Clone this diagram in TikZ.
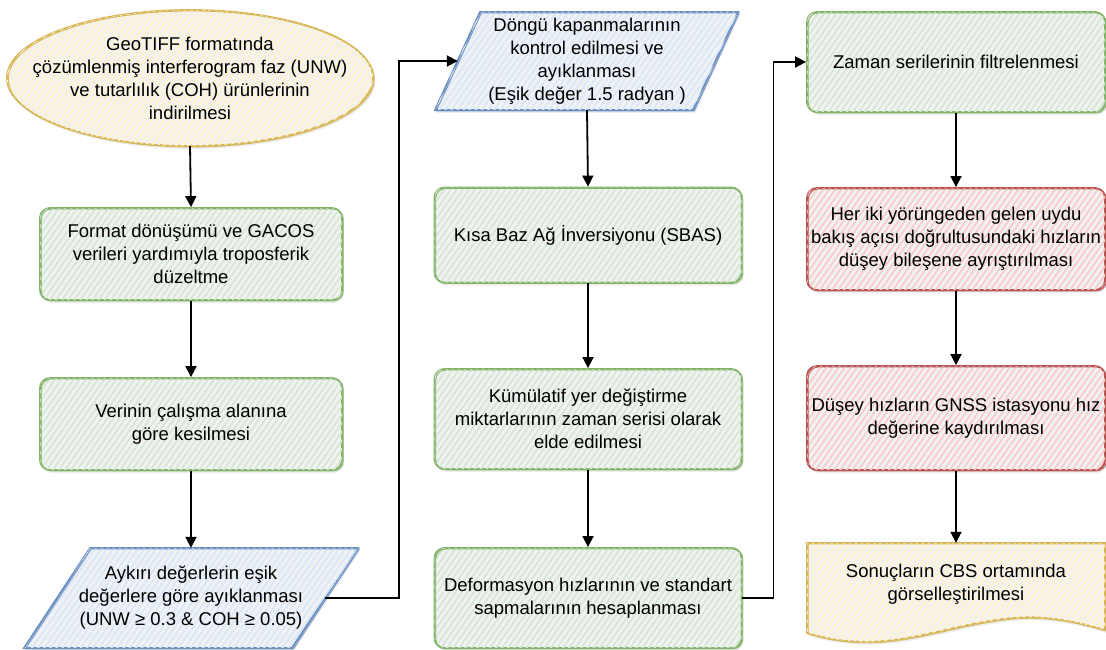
\documentclass[tikz,border=0pt]{standalone}
\usepackage{fontspec}
\setmainfont{Liberation Sans}
\usetikzlibrary{shapes.geometric,arrows.meta,calc,backgrounds,patterns.meta,shadows}
\definecolor{gS}{HTML}{82B366}\definecolor{gF}{HTML}{D5E8D4}
\definecolor{bS}{HTML}{6C8EBF}\definecolor{bF}{HTML}{DAE8FC}
\definecolor{rS}{HTML}{B85450}\definecolor{rF}{HTML}{F8CECC}
\definecolor{yS}{HTML}{D6B656}\definecolor{yF}{HTML}{FFF2CC}
\definecolor{base}{HTML}{F2F2F2}
\tikzset{
  sh/.style={drop shadow={opacity=0.14,shadow xshift=2pt,shadow yshift=-3pt}},
  hatch/.style={fill=base,postaction={pattern={Lines[angle=55,distance=5pt,line width=1.8pt]},pattern color=#1}},
  rough/.style={postaction={draw=#1,line width=0.8pt,transform canvas={shift={(1.3pt,-1pt)}}}},
  txt/.style={align=center,inner sep=0pt,font=\fontsize{18.5}{23}\selectfont},
  gbox/.style={txt,draw=gS,line width=1.8pt,rounded corners=10pt,hatch=gF,sh,rough=gS},
  rbox/.style={txt,draw=rS,line width=1.8pt,rounded corners=10pt,hatch=rF,sh,rough=rS},
  bshape/.style={draw=bS,line width=1.8pt,hatch=bF,sh,rough=bS},
  yshape/.style={draw=yS,line width=1.8pt,hatch=yF,sh,rough=yS},
  arr/.style={draw=black,line width=1.8pt,-{Triangle[length=11pt,width=11pt]}},
}
\begin{document}
\begin{tikzpicture}[x=1pt,y=-1pt]
\useasboundingbox (0,0) rectangle (1106,650);

% column 1
\node[txt,minimum width=365pt,minimum height=136pt] (n1) at (190,78)
  {GeoTIFF formatında\\çözümlenmiş interferogram faz (UNW)\\ve tutarlılık (COH) ürünlerinin\\indirilmesi};
\node[gbox,minimum width=302pt,minimum height=92pt] (n2) at (191,254)
  {Format dönüşümü ve GACOS\\verileri yardımıyla troposferik\\düzeltme};
\node[gbox,minimum width=302pt,minimum height=92pt] (n3) at (191,424)
  {Verinin çalışma alanına\\göre kesilmesi};
\node[txt,minimum width=268pt,minimum height=100pt] (n4) at (191,598)
  {Aykırı değerlerin eşik\\değerlere göre ayıklanması\\(UNW ≥ 0.3 \& COH ≥ 0.05)};

% column 2
\node[txt,minimum width=258pt,minimum height=98pt] (n5) at (587,61)
  {Döngü kapanmalarının\\kontrol edilmesi ve\\ayıklanması\\(Eşik değer 1.5 radyan )};
\node[gbox,minimum width=307pt,minimum height=95pt] (n6) at (588,235)
  {Kısa Baz Ağ İnversiyonu (SBAS)};
\node[gbox,minimum width=307pt,minimum height=100pt] (n7) at (588,419)
  {Kümülatif yer değiştirme\\miktarlarının zaman serisi olarak\\elde edilmesi};
\node[gbox,minimum width=307pt,minimum height=100pt] (n8) at (588,598)
  {Deformasyon hızlarının ve standart\\sapmalarının hesaplanması};

% column 3
\node[gbox,minimum width=298pt,minimum height=100pt] (n9) at (956,62)
  {Zaman serilerinin filtrelenmesi};
\node[rbox,minimum width=298pt,minimum height=102pt] (n10) at (956,239)
  {Her iki yörüngeden gelen uydu\\bakış açısı doğrultusundaki hızların\\düşey bileşene ayrıştırılması};
\node[rbox,minimum width=298pt,minimum height=104pt] (n11) at (956,418)
  {Düşey hızların GNSS istasyonu hız\\değerine kaydırılması};
\node[txt,minimum width=298pt,minimum height=82pt] (n12) at (956,584)
  {Sonuçların CBS ortamında\\görselleştirilmesi};

\begin{scope}[on background layer]
  \fill[white] (0,0) rectangle (1106,650);
  \path[yshape] (n1.center) ellipse [x radius=183pt,y radius=68pt];
  \path[bshape] (90,548) -- (358,548) -- (292,648) -- (24,648) -- cycle;
  \path[bshape] (480,12) -- (738,12) -- (693,110) -- (435,110) -- cycle;
  \path[yshape] (807,543) -- (1105,543) -- (1105,630)
     .. controls (1060,617) and (1030,614) .. (990,621)
     .. controls (930,630) and (880,655) .. (807,633) -- cycle;
\end{scope}

% connectors
\draw[arr] (n1.south) -- (n2.north);
\draw[arr] (n2.south) -- (n3.north);
\draw[arr] (n3.south) -- (n4.north);
\draw[arr] (n4.east) -- ++(74,0) |- (n5.west);
\draw[arr] (n5.south) -- (n6.north);
\draw[arr] (n6.south) -- (n7.north);
\draw[arr] (n7.south) -- (n8.north);
\draw[arr] (n8.east) -- ++(31,0) |- (n9.west);
\draw[arr] (n9.south) -- (n10.north);
\draw[arr] (n10.south) -- (n11.north);
\draw[arr] (n11.south) -- (n12.north);
\end{tikzpicture}
\end{document}
